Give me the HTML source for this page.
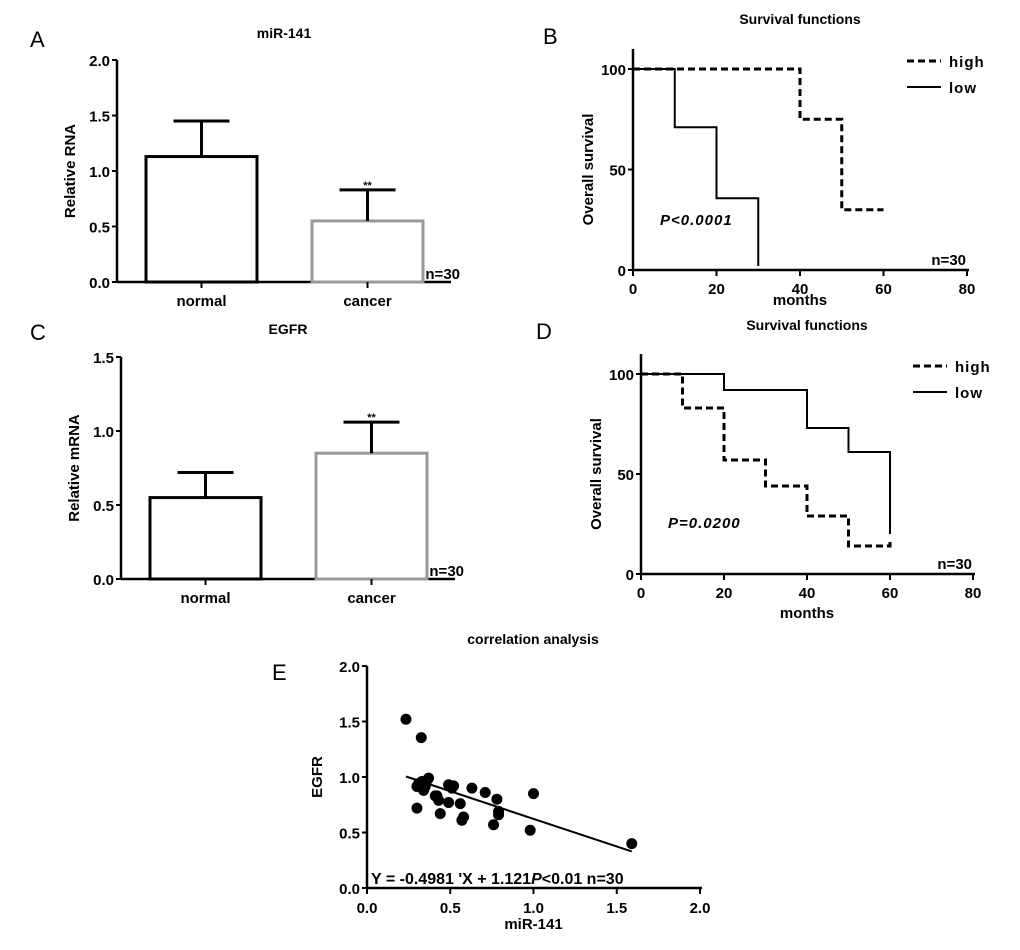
<!DOCTYPE html>
<html><head><meta charset="utf-8"><style>
body{margin:0;background:#fff}
svg{display:block;font-family:"Liberation Sans",Arial,sans-serif}
.t{font-weight:bold;font-size:14px}
.tk{font-weight:bold;font-size:15px}
.lb{font-size:22px}
</style></head><body>
<svg id="s" width="1020" height="950" viewBox="0 0 1020 950"></svg>
<script>
// Panel A data
const aCats=["normal","cancer"];
const aVals=[1.13,0.55];
const aErr=[1.45,0.83];
const aTicks=[0,0.5,1.0,1.5,2.0];
// Panel C data
const cCats=["normal","cancer"];
const cVals=[0.55,0.85];
const cErr=[0.72,1.06];
const cTicks=[0,0.5,1.0,1.5];
// Panel B survival
const bHighX=[0,40,50,60];
const bHighY=[100,75,30,30];
const bLowX=[0,10,20,30];
const bLowY=[100,71,35.7,2];
// Panel D survival
const dHighX=[0,10,20,30,40,50,60];
const dHighY=[100,83,57,44,29,14,16];
const dLowX=[0,20,40,50,60];
const dLowY=[100,92,73,61,20];
const survXTicks=[0,20,40,60,80];
const survYTicks=[0,50,100];
// Panel E scatter
const eX=[0.234,0.326,0.30,0.30,0.33,0.35,0.37,0.41,0.43,0.44,0.49,0.49,0.52,0.56,0.57,0.58,0.63,0.71,0.78,0.79,0.76,0.98,1.0,1.59,0.34,0.31,0.51,0.79,0.42,0.36];
const eY=[1.52,1.355,0.72,0.915,0.96,0.915,0.99,0.83,0.79,0.67,0.93,0.77,0.92,0.76,0.61,0.64,0.90,0.86,0.80,0.69,0.57,0.52,0.85,0.40,0.88,0.94,0.90,0.66,0.83,0.97];
const eTicks=[0,0.5,1.0,1.5,2.0];
const slope=-0.4981, intercept=1.121;

const S=document.getElementById('s');
const NS="http://www.w3.org/2000/svg";
function mk(tag,at,txt){const e=document.createElementNS(NS,tag);for(const k in at)e.setAttribute(k,at[k]);if(txt!=null)e.textContent=txt;S.appendChild(e);return e;}
function line(x1,y1,x2,y2,w,c,dash){return mk('line',{x1,y1,x2,y2,stroke:c||'#000','stroke-width':w||2,'stroke-dasharray':dash||'none'});}
function text(x,y,s,cls,anchor,extra){const e=mk('text',Object.assign({x,y,class:cls||'tk','text-anchor':anchor||'middle'},extra||{}),s);return e;}

function barPanel(o){
  const {x0,y0,yTop,maxV,xEnd,cats,vals,errs,ticks,barX,barW,title,ylab,letter,lx,ly}=o;
  const ys=v=>y0-(v/maxV)*(y0-yTop);
  let e=text(lx,ly,letter,'lb','start');
  e=text((x0+xEnd)/2,o.titleY,title,'t');
  e=line(x0,yTop,x0,y0+1,2.5);
  e=line(x0,y0,xEnd,y0,2.5);
  ticks.forEach(t=>{line(x0-5,ys(t),x0,ys(t),2);e=text(x0-7,ys(t)+6,t.toFixed(1),'tk','end');});
  e=text(0,0,ylab,'tk','middle',{transform:`translate(${x0-42},${(y0+yTop)/2}) rotate(-90)`});
  cats.forEach((c,i)=>{
    const bx=barX[i],cx=bx+barW/2,col=i==0?'#000':'#999';
    const r=mk('rect',{x:bx,y:ys(vals[i]),width:barW,height:y0-ys(vals[i]),fill:'#fff',stroke:col,'stroke-width':3});
    
    line(cx,ys(vals[i]),cx,ys(errs[i]),3);
    e=line(cx-28,ys(errs[i]),cx+28,ys(errs[i]),3);
    if(i==1){e=text(cx,ys(errs[i])-1,'**','tk','middle',{style:'font-size:11px'});}
    line(cx,y0,cx,y0+6,2);
    e=text(cx,y0+24,c);
  });
  e=text(xEnd+9,y0-3,'n=30','tk','end');
}
barPanel({x0:117,y0:282,yTop:60,maxV:2,xEnd:451,cats:aCats,vals:aVals,errs:aErr,ticks:aTicks,barX:[146,312],barW:111,title:'miR-141',ylab:'Relative RNA',letter:'A',lx:30,ly:47,titleY:38});
barPanel({x0:121,y0:579,yTop:357,maxV:1.5,xEnd:455,cats:cCats,vals:cVals,errs:cErr,ticks:cTicks,barX:[150,316],barW:111,title:'EGFR',ylab:'Relative mRNA',letter:'C',lx:30,ly:340,titleY:334});

function survPanel(o){
  const {x0,y0,x80,y100,hx,hy,lx_,ly_,letter,llx,lly,pText,pX,pY,titleY,monthsY}=o;
  const xs=v=>x0+v/80*(x80-x0), ys=v=>y0-v/100*(y0-y100);
  let e=text(llx,lly,letter,'lb','start');
  e=text((x0+x80)/2,titleY,'Survival functions','t');
  e=line(x0,y100-20,x0,y0+1,2.5);
  e=line(x0,y0,x80+2,y0,2.5);
  survYTicks.forEach(t=>{line(x0-5,ys(t),x0,ys(t),2);e=text(x0-7,ys(t)+6,t,'tk','end');});
  survXTicks.forEach(t=>{line(xs(t),y0,xs(t),y0+6,2);e=text(xs(t),y0+24,t);});
  e=text(0,0,'Overall survival','tk','middle',{transform:`translate(${x0-40},${(y0+y100)/2}) rotate(-90)`});
  e=text((x0+x80)/2,monthsY,'months');
  function step(X,Y,dash,name){
    let d=`M${xs(X[0])},${ys(Y[0])}`;
    for(let i=1;i<X.length;i++){d+=` H${xs(X[i])} V${ys(Y[i])}`;}
    const p=mk('path',{d,fill:'none',stroke:'#000','stroke-width':dash?3:2,'stroke-dasharray':dash?'7,4':'none'});
    
  }
  step(hx,hy,true,'high-curve');step(lx_,ly_,false,'low-curve');
  const lgX=x80-60;
  e=line(lgX,y100-8,lgX+34,y100-8,3,'#000','7,4');
  e=text(lgX+42,y100-2,'high','tk','start',{style:'letter-spacing:1px'});
  e=line(lgX,y100+18,lgX+34,y100+18,2);
  e=text(lgX+42,y100+24,'low','tk','start',{style:'letter-spacing:1px'});
  e=text(pX,pY,pText,'tk','start',{style:'font-style:italic;letter-spacing:1px'});
  e=text(x80-1,y0-5,'n=30','tk','end');
}
survPanel({x0:633,y0:270,x80:967,y100:69,hx:bHighX,hy:bHighY,lx_:bLowX,ly_:bLowY,letter:'B',llx:543,lly:44,pText:'P<0.0001',pX:660,pY:225,titleY:24,monthsY:305});
survPanel({x0:641,y0:574,x80:973,y100:374,hx:dHighX,hy:dHighY,lx_:dLowX,ly_:dLowY,letter:'D',llx:536,lly:339,pText:'P=0.0200',pX:668,pY:528,titleY:330,monthsY:618});

// Panel E
(function(){
  const x0=367,y0=888,x2=700,y2=666;
  const xs=v=>x0+v/2*(x2-x0), ys=v=>y0-v/2*(y0-y2);
  let e=text(272,680,'E','lb','start');
  e=text(533,644,'correlation analysis','t');
  e=line(x0,y2,x0,y0+1,2.5);
  e=line(x0,y0,x2+2,y0,2.5);
  eTicks.forEach(t=>{line(x0-5,ys(t),x0,ys(t),2);e=text(x0-7,ys(t)+6,t.toFixed(1),'tk','end');
    line(xs(t),y0,xs(t),y0+6,2);e=text(xs(t),y0+25,t.toFixed(1));});
  e=text(0,0,'EGFR','tk','middle',{transform:`translate(${x0-45},${(y0+y2)/2}) rotate(-90)`});
  e=text((x0+x2)/2,929,'miR-141');
  const xmin=Math.min(...eX),xmax=Math.max(...eX);
  e=line(xs(xmin),ys(slope*xmin+intercept),xs(xmax),ys(slope*xmax+intercept),2);
  eX.forEach((v,i)=>{const c=mk('circle',{cx:xs(v),cy:ys(eY[i]),r:5.5,fill:'#000'});
    
    });
  e=mk('text',{x:371,y:884,class:'tk','text-anchor':'start',style:'font-size:16px'});
  e.innerHTML='Y = -0.4981 \'X + 1.121<tspan style="font-style:italic">P</tspan>&lt;0.01 n=30';
  
  
})();
</script>
</body></html>
